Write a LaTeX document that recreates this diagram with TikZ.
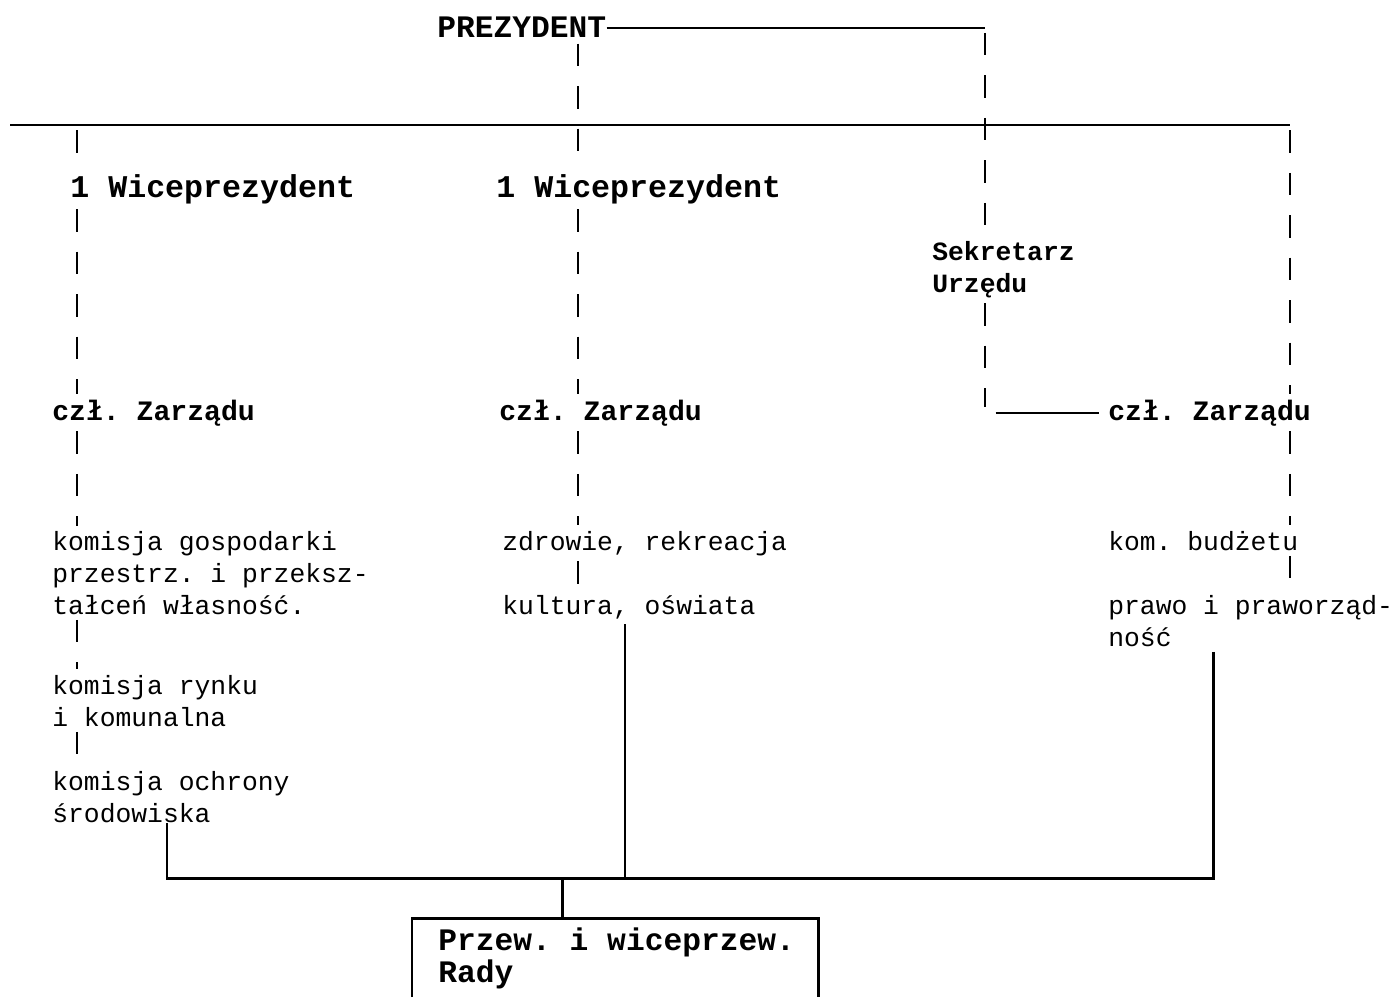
\documentclass[tikz,border=0pt]{standalone}
\usepackage{fontspec}
\setmonofont{Liberation Mono}
\usetikzlibrary{calc,positioning}

\begin{document}
\begin{tikzpicture}[x=0.02cm,y=-0.02cm,
    lbl/.style={anchor=base west,inner sep=0pt,align=left,
      font=\ttfamily\fontsize{15}{18.1}\selectfont},
    head/.style={anchor=base west,inner sep=0pt,align=left,
      font=\ttfamily\bfseries\fontsize{#1}{18.1}\selectfont},
    head/.default=16,
    dashlink/.style={line width=1.1pt,dash pattern=on 0.45cm off 0.4cm,
      shorten <=3pt,shorten >=3pt},
    link/.style={line width=1.1pt},
    heavy/.style={line width=1.7pt}]
    \useasboundingbox (0,0) rectangle (1399,997);

    % nodes (multi-line ones sit on the baseline of their last line)
    \node (prez) [head=17.8] at (437,38) {PREZYDENT};
    \node (wiceL) [head=18] at (70,197) {1 Wiceprezydent};
    \node (wiceM) [head=18] at (496,197) {1 Wiceprezydent};
    \node (sekr) [head=15] at (932,292) {Sekretarz\\Urzędu};
    \node (czlL) [head] at (52,420) {czł. Zarządu};
    \node (czlM) [head] at (499,420) {czł. Zarządu};
    \node (czlR) [head] at (1108,420) {czł. Zarządu};
    \node (komGosp) [lbl] at (52,614) {komisja gospodarki\\przestrz. i przeksz-\\tałceń własność.};
    \node (komRynku) [lbl] at (52,726) {komisja rynku\\i komunalna};
    \node (komOchr) [lbl] at (52,822) {komisja ochrony\\środowiska};
    \node (zdrow) [lbl] at (502,550) {zdrowie, rekreacja};
    \node (kult) [lbl] at (502,614) {kultura, oświata};
    \node (komBudz) [lbl] at (1108,550) {kom. budżetu};
    \node (prawo) [lbl] at (1108,646) {prawo i praworząd-\\ność};
    \node (rada) [head=17.8] at (438,982) {Przew. i wiceprzew.\\Rady};

    \coordinate (barW) at (10,125);
    \coordinate (colL) at (77,125);
    \coordinate (colM) at (578,125);
    \coordinate (colS) at (985,28);
    \coordinate (colR) at (1290,125);
    \coordinate (busO) at (167,878);
    \coordinate (busR) at (562,878);
    \coordinate (busK) at (625,878);
    \coordinate (busP) at (1213,878);
    \coordinate (frTL) at (412,918);
    \coordinate (frBR) at (818,997);

    % top bar and president
    \draw[link] (barW) -- (colR);
    \draw[link] (prez.east) -- (colS |- prez.east);
    \draw[dashlink] (colS |- prez.east) -- (colS |- sekr.north);
    \draw[dashlink] (colS |- sekr.south) -- (colS |- czlR.west);
    \draw[link,shorten <=6pt,shorten >=5pt] (colS |- czlR.west) -- (czlR.west);

    % left column
    \draw[dashlink] (colL) -- (colL |- wiceL.north);
    \draw[dashlink] (colL |- wiceL.south) -- (colL |- czlL.north);
    \draw[dashlink] (colL |- czlL.south) -- (colL |- komGosp.north);
    \draw[dashlink] (colL |- komGosp.south) -- (colL |- komRynku.north);
    \draw[dashlink] (colL |- komRynku.south) -- (colL |- komOchr.north);

    % middle column
    \draw[dashlink] (colM |- prez.south) -- (colM |- wiceM.north);
    \draw[dashlink] (colM |- wiceM.south) -- (colM |- czlM.north);
    \draw[dashlink] (colM |- czlM.south) -- (colM |- zdrow.north);
    \draw[dashlink] (colM |- zdrow.south) -- (colM |- kult.north);

    % right column
    \draw[dashlink] (colR) -- (colR |- czlR.north);
    \draw[dashlink] (colR |- czlR.south) -- (colR |- komBudz.north);
    \draw[dashlink] (colR |- komBudz.south) -- (colR |- prawo.north);

    % to the council
    \draw[line width=0.8pt,shorten <=3pt] (busK |- kult.south) -- (busK);
    \draw[heavy,shorten <=3pt] (busP |- prawo.south) -- (busP) -- (busO) -- (busO |- komOchr.south);
    \draw[heavy] (busR) -- (busR |- frTL);
    \draw[heavy] (frTL |- frBR) -- (frTL) -- (frTL -| frBR) -- (frBR);
\end{tikzpicture}
\end{document}
